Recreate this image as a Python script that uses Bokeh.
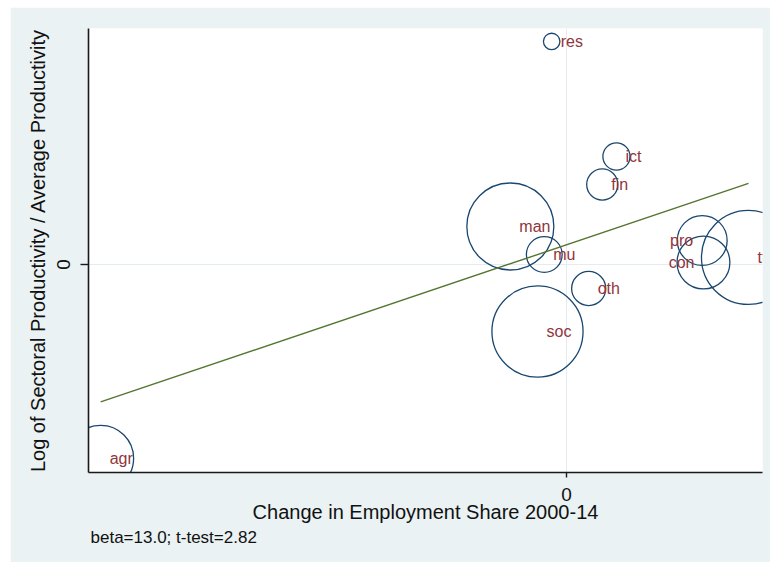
import numpy as np
from bokeh.plotting import figure
from bokeh.models import ColumnDataSource, Range1d, FixedTicker, Title
from bokeh.embed import file_html
from bokeh.resources import INLINE
from bokeh.core.properties import value

# ---- data ----
sectors = ["agr", "man", "mu", "soc", "res", "oth", "fin", "ict", "pro", "con", "ttl"]
emp_change = [-0.0755, -0.0091, -0.0036, -0.0047, -0.0024, 0.0036, 0.0058, 0.0081, 0.0220, 0.0222, 0.0295]
log_rel_prod = [-1.211, 0.2375, 0.0625, -0.419, 1.394, -0.150, 0.500, 0.675, 0.150, 0.0125, 0.044]
emp_share = [11.2, 19.5, 3.3, 21.4, 0.7, 3.0, 2.5, 1.9, 6.4, 7.2, 22.8]
label_clock = [3, 3, 3, 3, 3, 3, 3, 3, 9, 9, 3]
beta = 13.0
intercept = 0.123
t_stat = 2.82

x_ticks = [0]
y_ticks = [0]

# ---- styling ----
FONT = "Liberation Sans"
BG = "#eaf2f3"
NAVY = "#1a476f"
GREEN = "#55752f"
MAROON = "#90353b"
BUBBLE_SCALE = 9.85  # px of radius per sqrt(share)

sizes = [2 * BUBBLE_SCALE * np.sqrt(w) for w in emp_share]

src = ColumnDataSource(dict(x=emp_change, y=log_rel_prod, size=sizes, name=sectors))

right_idx = [i for i, c in enumerate(label_clock) if c == 3]
left_idx = [i for i, c in enumerate(label_clock) if c == 9]
src_r = ColumnDataSource(dict(x=[emp_change[i] for i in right_idx],
                              y=[log_rel_prod[i] for i in right_idx],
                              name=[sectors[i] for i in right_idx]))
src_l = ColumnDataSource(dict(x=[emp_change[i] for i in left_idx],
                              y=[log_rel_prod[i] for i in left_idx],
                              name=[sectors[i] for i in left_idx]))

xmin, xmax = min(emp_change), max(emp_change)
fit_x = [xmin, xmax]
fit_y = [intercept + beta * v for v in fit_x]

p = figure(frame_width=674, frame_height=444,
           x_range=Range1d(-0.07747, 0.03177), y_range=Range1d(-1.30, 1.475),
           output_backend="svg", toolbar_location=None,
           min_border_left=78, min_border_right=8, min_border_top=21, min_border_bottom=90,
           background_fill_color="white", border_fill_color=BG, outline_line_color=None)
p.margin = (7, 0, 0, 10)

# grid
p.xgrid.ticker = FixedTicker(ticks=x_ticks)
p.ygrid.ticker = FixedTicker(ticks=y_ticks)
p.xgrid.grid_line_color = "#e3ecef"
p.ygrid.grid_line_color = "#e3ecef"
p.xgrid.grid_line_width = 1
p.ygrid.grid_line_width = 1

# axes
for ax in (p.xaxis[0], p.yaxis[0]):
    ax.axis_line_color = "#1a1a1a"
    ax.axis_line_width = 1.6
    ax.major_tick_line_color = "#1a1a1a"
    ax.major_tick_line_width = 1.4
    ax.major_tick_in = 0
    ax.minor_tick_line_color = None
    ax.major_label_text_font = FONT
    ax.major_label_text_font_size = "19px"
    ax.major_label_text_color = "#111111"
    ax.axis_label_text_font = FONT
    ax.axis_label_text_font_size = "20px"
    ax.axis_label_text_font_style = "normal"
    ax.axis_label_text_color = "#111111"

p.xaxis.ticker = FixedTicker(ticks=x_ticks)
p.yaxis.ticker = FixedTicker(ticks=y_ticks)
p.xaxis.major_tick_out = 5
p.yaxis.major_tick_out = 8
p.xaxis.major_label_standoff = 10
p.yaxis.major_label_standoff = 11
p.yaxis.major_label_orientation = "vertical"
p.xaxis.axis_label = "Change in Employment Share 2000-14"
p.yaxis.axis_label = "Log of Sectoral Productivity / Average Productivity"
p.xaxis.axis_label_standoff = -3
p.yaxis.axis_label_standoff = 5

# bubbles
p.scatter("x", "y", size="size", source=src, marker="circle",
          fill_color=None, line_color=NAVY, line_width=1.3)

# fitted line
p.line(fit_x, fit_y, line_color=GREEN, line_width=1.4)

# marker labels (Stata clock positions 3 = right, 9 = left)
p.text("x", "y", text="name", source=src_r, x_offset=9, text_align="left",
       text_baseline="middle", text_font=value(FONT), text_font_size="16px",
       text_color=MAROON)
p.text("x", "y", text="name", source=src_l, x_offset=-9, text_align="right",
       text_baseline="middle", text_font=value(FONT), text_font_size="16px",
       text_color=MAROON)

note = Title(text=f"beta={beta:.1f}; t-test={t_stat:.2f}", align="left",
             text_font=FONT, text_font_size="17px", text_font_style="normal",
             text_color="#111111", offset=2, standoff=0)
p.add_layout(note, "below")

open("out.html", "w").write(file_html(p, INLINE))
